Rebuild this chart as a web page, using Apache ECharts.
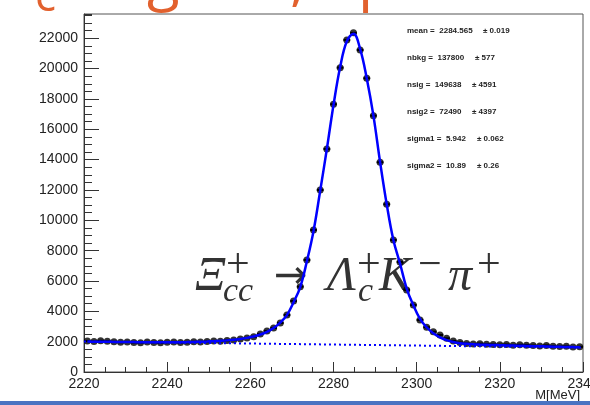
<!DOCTYPE html>
<html>
<head>
<meta charset="utf-8">
<script src="https://cdn.jsdelivr.net/npm/echarts@6/dist/echarts.min.js"></script>
<style>
  html, body { margin: 0; padding: 0; background: #fff; }
  #chart { width: 590px; height: 405px; }
</style>
</head>
<body>
<div id="chart"></div>
<script>
// Invariant-mass histogram, bin centres in MeV (bin width 1.6 MeV)
const binCenters = [
  2220.8, 2222.4, 2224.0, 2225.6, 2227.2, 2228.8, 2230.4, 2232.0, 2233.6, 2235.2,
  2236.8, 2238.4, 2240.0, 2241.6, 2243.2, 2244.8, 2246.4, 2248.0, 2249.6, 2251.2,
  2252.8, 2254.4, 2256.0, 2257.6, 2259.2, 2260.8, 2262.4, 2264.0, 2265.6, 2267.2,
  2268.8, 2270.4, 2272.0, 2273.6, 2275.2, 2276.8, 2278.4, 2280.0, 2281.6, 2283.2,
  2284.8, 2286.4, 2288.0, 2289.6, 2291.2, 2292.8, 2294.4, 2296.0, 2297.6, 2299.2,
  2300.8, 2302.4, 2304.0, 2305.6, 2307.2, 2308.8, 2310.4, 2312.0, 2313.6, 2315.2,
  2316.8, 2318.4, 2320.0, 2321.6, 2323.2, 2324.8, 2326.4, 2328.0, 2329.6, 2331.2,
  2332.8, 2334.4, 2336.0, 2337.6, 2339.2
];
const binWidth = 1.6;

// Entries per bin
const counts = [
  2040, 2010, 2060, 2030, 1990, 1960, 1980, 1940, 1930, 1970,
  1950, 1920, 1960, 1980, 1940, 1960, 1990, 1980, 2010, 2040,
  2030, 2080, 2110, 2170, 2242, 2327, 2505, 2703, 2901, 3231,
  3758, 4681, 5624, 7384, 9362, 11999, 14702, 17650, 20063, 21889,
  22356, 21229, 19364, 16898, 13826, 11056, 8703, 7252, 5406, 4417,
  3428, 2950, 2657, 2439, 2222, 2044, 1945, 1880, 1850, 1870,
  1830, 1820, 1800, 1810, 1760, 1790, 1770, 1740, 1720, 1750,
  1700, 1680, 1690, 1650, 1660
];

// Total fit (signal + background) at the bin centres
const fitTotal = [
  2005, 2000, 1995, 1990, 1985, 1980, 1975, 1970, 1966, 1962,
  1960, 1958, 1958, 1960, 1965, 1972, 1982, 1995, 2010, 2030,
  2055, 2085, 2125, 2180, 2250, 2340, 2470, 2650, 2900, 3260,
  3750, 4600, 5600, 7300, 9300, 11950, 14700, 17600, 20100, 21800,
  22300, 21300, 19350, 16900, 13850, 11050, 8700, 7150, 5500, 4400,
  3500, 2950, 2550, 2280, 2100, 1980, 1900, 1860, 1830, 1810,
  1795, 1780, 1770, 1755, 1745, 1730, 1720, 1705, 1695, 1685,
  1670, 1660, 1650, 1640, 1625
];

// Linear background component, end points
const bkgX = [2220, 2340];
const bkgY = [2010, 1610];

// Fit parameters shown in the stats box
const statNames  = ['mean', 'nbkg', 'nsig', 'nsig2', 'sigma1', 'sigma2'];
const statValues = ['2284.565', '137800', '149638', '72490', '5.942', '10.89'];
const statErrors = ['0.019', '577', '4591', '4397', '0.062', '0.26'];

const xTicks = [2220, 2240, 2260, 2280, 2300, 2320, 2340];
const yTicks = [0, 2000, 4000, 6000, 8000, 10000, 12000, 14000, 16000, 18000, 20000, 22000];

const pointData = binCenters.map((x, i) => [x, counts[i]]);
const fitData = binCenters.map((x, i) => [x, fitTotal[i]]);
const bkgData = bkgX.map((x, i) => [x, bkgY[i]]);

const axisFont = { fontFamily: 'Liberation Sans, Arial, sans-serif', fontSize: 14, color: '#222' };
const plainNumber = (v) => String(v);

const chart = echarts.init(document.getElementById('chart'), null, { renderer: 'canvas' });

// stats box text
const statGraphics = [];
const statRowY = [32, 59, 86, 113, 139.5, 166.5];
const statErrX = [483, 475, 472, 472, 477, 477];
const statFont = 'bold 8px Liberation Sans, Arial, sans-serif';
statNames.forEach((n, i) => {
  statGraphics.push({
    type: 'text', left: 407, top: statRowY[i] - 5,
    style: { text: n + ' =  ' + statValues[i], font: statFont, fill: '#222' }
  });
  statGraphics.push({
    type: 'text', left: statErrX[i], top: statRowY[i] - 5,
    style: { text: '\u00b1 ' + statErrors[i], font: statFont, fill: '#222' }
  });
});

// decay formula, one glyph group per element
const serif = 'Liberation Serif, DejaVu Serif, serif';
const formula = [
  { t: '\u039e', x: 195, y: 301, f: 'italic 48px ' + serif },
  { t: 'cc', x: 223, y: 309, f: 'italic 34px ' + serif },
  { t: '+', x: 226, y: 287, f: '42px ' + serif },
  { t: '\u039b', x: 327, y: 301, f: 'italic 48px ' + serif },
  { t: 'c', x: 358, y: 309, f: 'italic 34px ' + serif },
  { t: '+', x: 357, y: 287, f: '42px ' + serif },
  { t: 'K', x: 379, y: 301, f: 'italic 48px ' + serif },
  { t: '\u2212', x: 418, y: 287, f: '42px ' + serif },
  { t: '\u03c0', x: 448, y: 301, f: 'italic 48px ' + serif },
  { t: '+', x: 477, y: 287, f: '42px ' + serif }
];
const formulaGraphics = formula.map(g => ({
  type: 'text', x: g.x, y: g.y,
  style: { text: g.t, font: g.f, fill: '#333', textAlign: 'left', textVerticalAlign: 'bottom' }
}));
formulaGraphics.push({
  type: 'text', x: 274, y: 278,
  style: { text: '\u2192', font: '40px DejaVu Sans, sans-serif', fill: '#333', textAlign: 'left', textVerticalAlign: 'middle' }
});

// slide title fragments above the frame
const titleGraphics = [
  { t: 'c', x: 35, y: 20, s: 44 },
  { t: 'g', x: 147, y: 12, s: 60 },
  { t: ',', x: 290, y: 12, s: 60 },
  { t: 'p', x: 358, y: 12, s: 60 }
].map(g => ({
  type: 'text', x: g.x, y: g.y,
  style: { text: g.t, font: g.s + 'px Open Sans, Liberation Sans, sans-serif', fill: '#e2612e', textVerticalAlign: 'bottom' }
}));

const option = {
  animation: false,
  backgroundColor: '#fff',
  grid: {
    left: 84, right: 7, top: 14, bottom: 33,
    outerBoundsMode: 'none', containLabel: false,
    show: true, borderColor: '#555', borderWidth: 1, backgroundColor: 'transparent'
  },
  xAxis: [
    {
      type: 'value', min: 2220, max: 2340, interval: 20, position: 'bottom',
      axisLine: { show: true, onZero: false, lineStyle: { color: '#333', width: 1 } },
      axisTick: { show: true, inside: true, length: 10, lineStyle: { color: '#333' } },
      axisLabel: Object.assign({
        margin: 5, showMaxLabel: true, hideOverlap: false, formatter: plainNumber,
        alignMinLabel: 'center', alignMaxLabel: 'center'
      }, axisFont),
      splitLine: { show: false }
    },
    {
      type: 'value', min: 2220, max: 2340, interval: 5, position: 'bottom',
      axisLine: { show: false, onZero: false },
      axisTick: { show: true, inside: true, length: 5, lineStyle: { color: '#333' } },
      axisLabel: { show: false },
      splitLine: { show: false }
    }
  ],
  yAxis: [
    {
      type: 'value', min: 0, max: 23600, interval: 2000, position: 'left',
      axisLine: { show: true, onZero: false, lineStyle: { color: '#333', width: 1 } },
      axisTick: { show: true, inside: true, length: 15, lineStyle: { color: '#333' } },
      axisLabel: Object.assign({ margin: 6, showMaxLabel: false, formatter: plainNumber }, axisFont),
      splitLine: { show: false }
    },
    {
      type: 'value', min: 0, max: 23600, interval: 500, position: 'left',
      axisLine: { show: false, onZero: false },
      axisTick: { show: true, inside: true, length: 8, lineStyle: { color: '#333' } },
      axisLabel: { show: false },
      splitLine: { show: false }
    }
  ],
  series: [
    {
      // horizontal bin-width bars of the data points
      type: 'custom',
      xAxisIndex: 0, yAxisIndex: 0,
      data: pointData,
      renderItem: function (params, api) {
        const x = api.value(0), y = api.value(1);
        const a = api.coord([x - binWidth / 2, y]);
        const b = api.coord([x + binWidth / 2, y]);
        return {
          type: 'line',
          shape: { x1: a[0], y1: a[1], x2: b[0], y2: b[1] },
          style: { stroke: '#000', lineWidth: 2 }
        };
      },
      z: 2
    },
    {
      type: 'scatter',
      xAxisIndex: 0, yAxisIndex: 0,
      data: pointData,
      symbol: 'circle', symbolSize: 7,
      itemStyle: { color: '#000' },
      z: 3
    },
    {
      type: 'line',
      xAxisIndex: 0, yAxisIndex: 0,
      data: bkgData,
      showSymbol: false,
      lineStyle: { color: '#0000ff', width: 2, type: [2, 3] },
      z: 4
    },
    {
      type: 'line',
      xAxisIndex: 0, yAxisIndex: 0,
      data: fitData,
      smooth: 0.4,
      showSymbol: false,
      lineStyle: { color: '#0000ff', width: 2.5 },
      z: 5
    }
  ],
  graphic: [].concat(
    titleGraphics,
    statGraphics,
    formulaGraphics,
    [
      {
        type: 'text', right: 10, top: 389,
        style: { text: 'M[MeV]', font: '13px Liberation Sans, Arial, sans-serif', fill: '#222' }
      },
      {
        type: 'rect', shape: { x: 0, y: 401, width: 590, height: 4 },
        style: { fill: '#4a73c2' }
      }
    ]
  )
};

chart.setOption(option);
</script>
</body>
</html>
